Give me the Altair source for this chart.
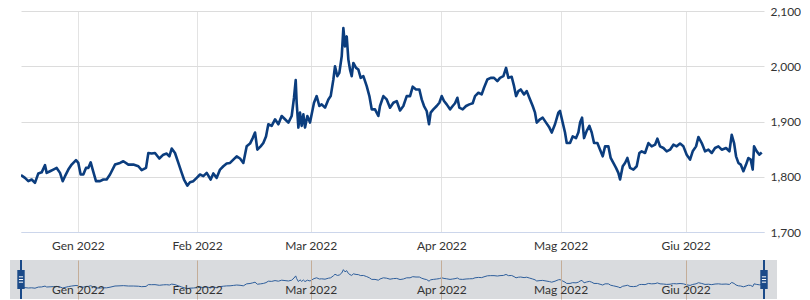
import altair as alt
import pandas as pd

# Trading-session index (weekdays from 20 Dec 2021) and XAU/USD price readings
session = [
    0.00, 0.70, 1.29, 1.88, 2.46, 3.05, 3.64, 4.23, 4.52, 5.11,
    5.69, 6.28, 6.87, 7.34, 7.75, 8.33, 8.92, 9.68, 10.09, 10.50,
    10.97, 11.44, 11.85, 12.27, 12.62, 13.20, 13.91, 14.50, 15.08, 15.67,
    16.55, 17.43, 18.02, 18.90, 19.78, 20.66, 21.24, 22.01, 22.42, 23.00,
    23.59, 24.35, 25.06, 25.65, 26.12, 26.53, 27.11, 27.70, 28.29, 28.70,
    29.28, 29.75, 30.34, 30.93, 31.51, 32.10, 32.69, 33.39, 33.86, 34.45,
    35.04, 35.62, 36.21, 36.80, 37.38, 37.97, 38.56, 39.14, 39.73, 40.32,
    40.79, 41.20, 41.61, 42.19, 42.66, 43.13, 43.54, 44.13, 44.72, 45.31,
    45.89, 46.48, 47.07, 47.65, 48.06, 48.36, 48.53, 48.83, 49.12, 49.41,
    49.71, 50.00, 50.41, 50.88, 51.17, 51.58, 52.05, 52.52, 52.93, 53.52,
    54.11, 54.52, 54.99, 55.28, 55.69, 56.04, 56.46, 56.75, 57.04, 57.34,
    57.63, 57.92, 58.22, 58.51, 58.98, 59.39, 59.80, 60.27, 60.86, 61.33,
    61.74, 62.32, 62.91, 63.20, 63.79, 64.38, 64.96, 65.55, 66.14, 66.73,
    67.31, 67.90, 68.49, 68.96, 69.54, 70.13, 70.54, 70.95, 71.42, 71.83,
    72.12, 72.59, 73.18, 73.65, 74.06, 74.47, 74.94, 75.53, 76.00, 76.41,
    76.82, 77.17, 77.76, 78.35, 78.93, 79.52, 79.93, 80.52, 81.10, 81.51,
    82.10, 82.69, 83.27, 83.86, 84.33, 84.92, 85.39, 85.80, 86.38, 86.80,
    87.15, 87.56, 87.97, 88.56, 89.03, 89.49, 90.08, 90.49, 90.79, 91.37,
    91.84, 92.43, 93.02, 93.43, 94.01, 94.60, 94.89, 95.36, 95.77, 96.07,
    96.65, 97.12, 97.71, 98.12, 98.42, 98.77, 99.12, 99.59, 100.06, 100.47,
    100.88, 101.47, 101.94, 102.41, 102.82, 103.40, 103.81, 104.28, 104.75, 105.16,
    105.46, 105.93, 106.34, 106.75, 107.22, 107.81, 108.39, 108.86, 109.27, 109.86,
    110.45, 111.03, 111.62, 112.03, 112.50, 113.09, 113.67, 114.26, 114.85, 115.43,
    116.02, 116.61, 117.19, 117.78, 118.25, 118.84, 119.25, 119.84, 120.42, 121.01,
    121.60, 122.18, 122.77, 123.36, 124.12, 124.71, 125.12, 125.53, 125.88, 126.29,
    126.70, 127.17, 127.64, 128.05, 128.46, 128.81, 129.05, 129.52, 129.99, 130.40,
]
price = [
    1803, 1798, 1792, 1795, 1789, 1806, 1808, 1821, 1807, 1810,
    1813, 1816, 1807, 1792, 1801, 1813, 1822, 1830, 1825, 1804,
    1804, 1816, 1816, 1826, 1813, 1792, 1792, 1795, 1795, 1804,
    1822, 1825, 1828, 1822, 1822, 1819, 1812, 1816, 1843, 1842,
    1843, 1833, 1840, 1842, 1837, 1851, 1843, 1825, 1807, 1795,
    1784, 1790, 1792, 1798, 1804, 1801, 1807, 1795, 1806, 1798,
    1813, 1819, 1824, 1825, 1831, 1837, 1833, 1825, 1855, 1860,
    1870, 1880, 1849, 1855, 1861, 1873, 1895, 1892, 1904, 1895,
    1910, 1904, 1898, 1910, 1943, 1975, 1934, 1889, 1916, 1892,
    1913, 1889, 1910, 1898, 1913, 1934, 1946, 1928, 1931, 1925,
    1940, 1946, 1976, 2000, 1982, 1988, 2018, 2069, 2036, 2054,
    2012, 1994, 1982, 2006, 1997, 1994, 1979, 1982, 1964, 1946,
    1922, 1922, 1910, 1928, 1946, 1940, 1925, 1934, 1937, 1920,
    1928, 1946, 1946, 1963, 1958, 1958, 1940, 1928, 1919, 1895,
    1916, 1922, 1928, 1934, 1946, 1937, 1931, 1922, 1928, 1933,
    1943, 1925, 1922, 1928, 1931, 1933, 1946, 1952, 1949, 1961,
    1976, 1979, 1979, 1973, 1979, 1982, 1997, 1979, 1981, 1964,
    1946, 1955, 1958, 1949, 1955, 1943, 1928, 1916, 1898, 1904,
    1907, 1898, 1889, 1880, 1895, 1916, 1919, 1898, 1880, 1861,
    1861, 1873, 1870, 1880, 1898, 1907, 1870, 1883, 1892, 1880,
    1861, 1861, 1849, 1837, 1855, 1855, 1834, 1825, 1816, 1807,
    1795, 1819, 1825, 1834, 1816, 1813, 1819, 1843, 1846, 1843,
    1861, 1855, 1858, 1869, 1855, 1852, 1846, 1849, 1858, 1855,
    1860, 1855, 1840, 1831, 1846, 1855, 1872, 1861, 1846, 1849,
    1843, 1852, 1855, 1849, 1852, 1846, 1876, 1861, 1837, 1825,
    1822, 1810, 1822, 1834, 1831, 1813, 1855, 1846, 1840, 1844,
]
assert len(session) == len(price)

month_sessions = [10, 31, 51, 74, 95, 117]
month_labels = ["Gen 2022", "Feb 2022", "Mar 2022", "Apr 2022", "Mag 2022", "Giu 2022"]
y_ticks = [1700, 1800, 1900, 2000, 2100]
x_domain = [0, 130.8]
y_domain = [1700, 2100]
nav_y_domain = [1626, 2215]
handle_sessions = [0, 130.8]

df = pd.DataFrame({"session": session, "price": price})
handles = pd.DataFrame({"session": handle_sessions})
one = pd.DataFrame({"k": [0]})

label_expr = " : ".join(
    f"datum.value == {s} ? '{l}'" for s, l in zip(month_sessions, month_labels)
) + " : ''"

W = 743
H = 221
NAV_H = 39
FONT = "Lato"

xscale = alt.Scale(domain=x_domain, nice=False, zero=False)

main = alt.Chart(df).mark_line(
    color="#0b3d7e", strokeWidth=2.6, clip=True, strokeJoin="round"
).encode(
    x=alt.X(
        "session:Q",
        scale=xscale,
        axis=alt.Axis(
            values=month_sessions, labelExpr=label_expr, title=None,
            grid=True, gridColor="#e3e3e3", gridWidth=1,
            domain=True, domainColor="#ccd6eb", domainWidth=1,
            ticks=False, labelPadding=8, labelFont=FONT, labelFontSize=12,
            labelColor="#333333", labelOverlap=False,
        ),
    ),
    y=alt.Y(
        "price:Q",
        scale=alt.Scale(domain=y_domain, nice=False, zero=False),
        axis=alt.Axis(
            orient="right", values=y_ticks, format=",.0f", title=None,
            grid=True, gridColor="#dcdcdc", gridWidth=1,
            domain=False, ticks=False, labelPadding=6,
            labelFont=FONT, labelFontSize=12, labelColor="#333333",
        ),
    ),
).properties(width=W, height=H)

nav_bg = alt.Chart(one).mark_rect(color="#d9dbde").encode(
    x=alt.value(-11), x2=alt.value(W + 13), y=alt.value(0), y2=alt.value(NAV_H)
)

nav_line = alt.Chart(df).mark_line(color="#2f5f9c", strokeWidth=1).encode(
    x=alt.X(
        "session:Q",
        scale=xscale,
        axis=alt.Axis(
            values=month_sessions, labelExpr=label_expr, title=None,
            grid=True, gridColor="#c4ad98", gridWidth=1, zindex=1,
            domain=False, ticks=False, labelPadding=-10, labelBaseline="middle",
            labelFont=FONT, labelFontSize=12, labelColor="#333333",
            labelOverlap=False,
        ),
    ),
    y=alt.Y(
        "price:Q",
        scale=alt.Scale(domain=nav_y_domain, nice=False, zero=False),
        axis=None,
    ),
)

handle_rule = alt.Chart(handles).mark_rule(color="#1b4a88", strokeWidth=2).encode(
    x=alt.X("session:Q", scale=xscale)
)
handle_body = alt.Chart(handles).mark_point(
    shape="M-0.39,-1H0.39V1H-0.39Z", size=361, filled=True,
    color="#1b4a88", opacity=1,
).encode(x=alt.X("session:Q", scale=xscale), y=alt.value(19.5))
handle_grip = alt.Chart(handles).mark_point(
    shape="M-0.22,-0.28H0.22M-0.22,0H0.22M-0.22,0.28H0.22", size=361,
    filled=False, stroke="white", strokeWidth=1, opacity=1,
).encode(x=alt.X("session:Q", scale=xscale), y=alt.value(19.5))

nav = alt.layer(nav_bg, nav_line, handle_rule, handle_body, handle_grip).properties(
    width=W, height=NAV_H
)

chart = alt.vconcat(main, nav, spacing=8).properties(
    padding={"left": 10, "top": 5, "right": 0, "bottom": 0},
    background="white",
).configure_view(stroke=None)

chart.save("out.html", embed_options={"renderer": "svg", "actions": False})
